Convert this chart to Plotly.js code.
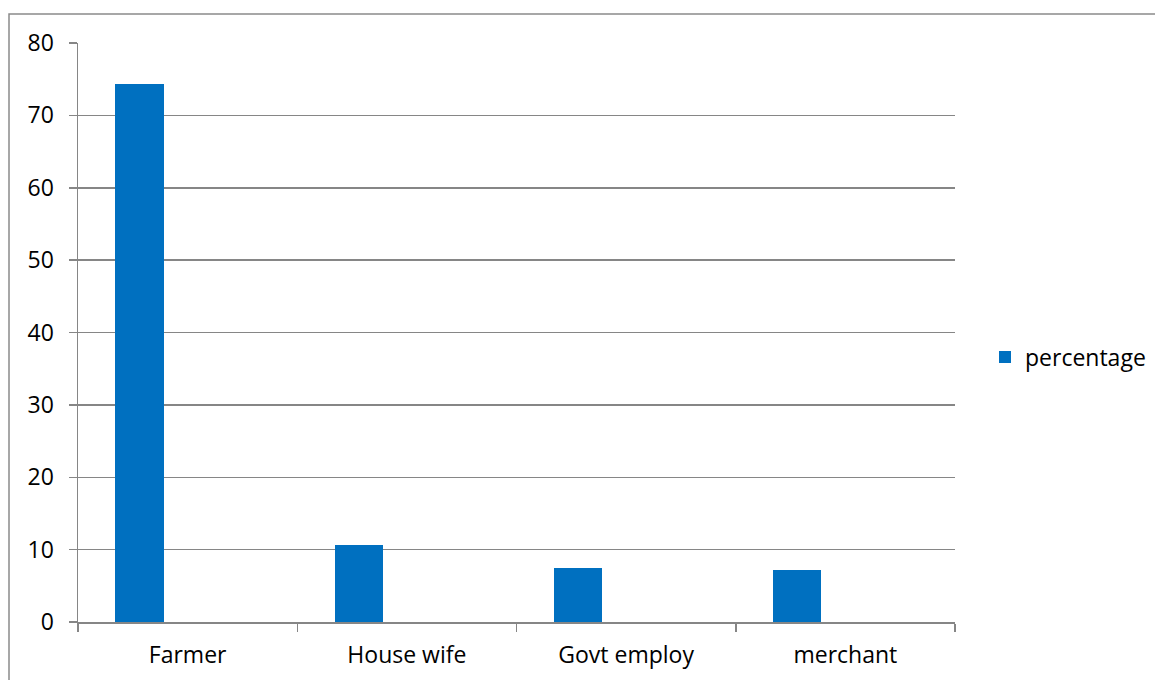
<!DOCTYPE html>
<html>
<head>
<meta charset="utf-8">
<script src="https://cdn.plot.ly/plotly-3.0.1.min.js"></script>
<style>html,body{margin:0;padding:0;background:#fff;}#chart{width:1155px;height:680px;}</style>
</head>
<body>
<div id="chart"></div>
<script>
var categories = ["Farmer", "House wife", "Govt employ", "merchant"];
var percentage = [74.4, 10.6, 7.5, 7.2];
var yTicks = [0, 10, 20, 30, 40, 50, 60, 70, 80];
var seriesName = "percentage";

var L = 78, R = 955, T = 43, B = 622, W = 1155, H = 680;
function px(x){ return (x - L) / (R - L); }
function py(y){ return (B - y) / (B - T); }

var font = "Open Sans, sans-serif";
var grid = "#868686";
var fs = 23;

var data = [{
  type: "bar",
  x: categories,
  y: percentage,
  name: seriesName,
  marker: {color: "#0070C0", line: {width: 0}},
  width: 0.22,
  offset: -0.33,
  showlegend: true
}];

var layout = {
  width: W, height: H,
  margin: {l: L, r: W - R, t: T, b: H - B, pad: 0, autoexpand: false},
  paper_bgcolor: "#fff", plot_bgcolor: "#fff",
  font: {family: font, size: fs, color: "#000"},
  showlegend: true,
  legend: {x: px(985), xanchor: "left", y: py(357), yanchor: "middle",
           font: {family: font, size: fs, color: "#000"}, bgcolor: "rgba(0,0,0,0)",
           itemwidth: 30},
  bargap: 0,
  xaxis: {
    type: "category",
    tickson: "boundaries",
    ticks: "outside", ticklen: 8, tickcolor: grid, tickwidth: 1.5,
    showgrid: false, showline: true, linecolor: grid, linewidth: 1.5,
    tickfont: {family: font, size: fs, color: "#000"},
    ticklabelstandoff: 12,
    range: [-0.5, 3.5], fixedrange: true
  },
  yaxis: {
    range: [0, 80],
    tickvals: yTicks,
    ticktext: yTicks.map(String),
    ticks: "outside", ticklen: 8, tickcolor: grid, tickwidth: 1.5,
    showgrid: true, gridcolor: grid, gridwidth: 1.5,
    showline: true, linecolor: grid, linewidth: 1.5,
    zeroline: false,
    tickfont: {family: font, size: fs, color: "#000"},
    ticklabelstandoff: 10
  },
  shapes: [{
    type: "rect", xref: "paper", yref: "paper",
    x0: px(9), x1: px(1170), y0: py(700), y1: py(14),
    line: {color: "#8a8a8a", width: 1.5}, fillcolor: "rgba(0,0,0,0)", layer: "below"
  }]
};

Plotly.newPlot("chart", data, layout, {displayModeBar: false, staticPlot: true});
</script>
</body>
</html>
